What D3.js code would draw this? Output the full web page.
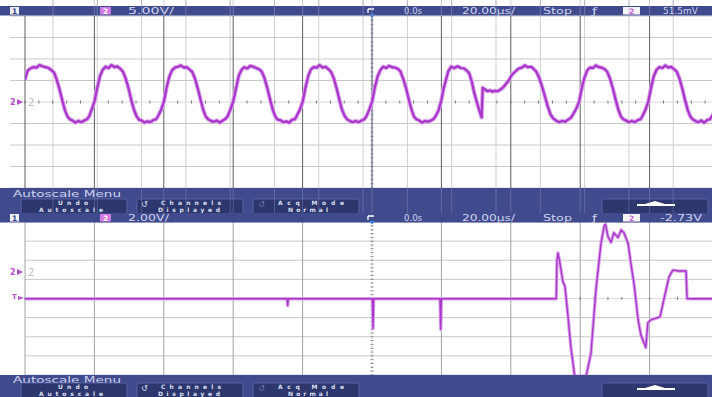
<!DOCTYPE html>
<html lang="en">
<head>
<meta charset="UTF-8">
<title>Scope capture</title>
<style>
body { margin: 0; background: #fff; }
svg { display: block; font-family: "DejaVu Sans", sans-serif; }
.bar-text { fill: #cfd3ef; font-size: 9px; }
.btn-text { fill: #dde0f4; font-size: 6px; font-weight: bold; }
</style>
</head>
<body>
<script src="https://d3js.org/d3.v7.min.js"></script>
<script>
// readouts
var chanScale = ['5.00V/', '2.00V/'];
var timeRef = '0.0s';
var timeScale = '20.00\u00b5s/';
var runState = 'Stop';
var trigLevel = ['51.5mV', '-2.73V'];
var menuTitle = 'Autoscale Menu';
var menuButtons = [['Undo', 'Autoscale'], ['Channels', 'Displayed'], ['Acq Mode', 'Normal']];

// time grid, us (10 divisions of 20 us)
var timeTicks = [-100, -80, -60, -40, -20, 0, 20, 40, 60, 80, 100];

// upper capture, channel 2 at 5 V/div, [us, V]
var topTrace = [
  [-100.0,5.2],[-99.3,7.2],[-98.5,7.8],[-97.6,8.1],[-96.7,8.0],[-95.8,8.6],[-95.0,8.3],[-94.1,8.1],[-93.2,7.9],[-92.4,7.4],[-91.6,6.8],[-90.9,5.3],[-90.1,3.1],[-89.3,0.5],[-88.5,-1.9],[-87.8,-3.3],[-87.1,-4.0],[-86.3,-4.3],[-85.5,-4.8],[-84.6,-4.4],[-83.8,-4.7],[-82.9,-4.3],[-82.1,-4.0],[-81.5,-3.3],[-80.8,-1.8],
  [-80.0,0.1],[-79.2,3.2],[-78.4,6.0],[-77.6,7.5],[-76.8,8.2],[-75.9,7.9],[-75.1,8.6],[-74.2,8.1],[-73.4,8.3],[-72.5,7.7],[-71.8,7.1],[-71.0,5.5],[-70.2,3.3],[-69.4,0.6],[-68.6,-1.8],[-67.9,-3.2],[-67.2,-4.1],[-66.4,-4.3],[-65.6,-4.8],[-64.7,-4.5],[-63.9,-4.7],[-63.0,-4.2],[-62.2,-4.0],[-61.6,-3.2],[-60.8,-1.9],
  [-60.0,0.0],[-59.2,3.3],[-58.4,5.9],[-57.6,7.4],[-56.8,8.0],[-55.9,8.2],[-55.1,8.5],[-54.2,8.0],[-53.4,8.1],[-52.5,7.5],[-51.8,7.0],[-51.0,5.4],[-50.2,3.1],[-49.4,0.5],[-48.6,-1.9],[-47.9,-3.4],[-47.2,-4.0],[-46.4,-4.4],[-45.6,-4.6],[-44.7,-4.3],[-43.9,-4.8],[-43.0,-4.3],[-42.2,-3.9],[-41.6,-3.3],[-40.8,-1.7],
  [-40.0,0.1],[-39.2,3.1],[-38.4,6.1],[-37.6,7.5],[-36.8,8.1],[-35.9,7.8],[-35.1,8.4],[-34.2,8.2],[-33.4,7.9],[-32.5,7.6],[-31.8,7.1],[-31.0,5.6],[-30.2,3.3],[-29.4,0.7],[-28.6,-1.8],[-27.9,-3.3],[-27.2,-4.1],[-26.4,-4.2],[-25.6,-4.7],[-24.7,-4.5],[-23.9,-4.8],[-23.0,-4.1],[-22.2,-4.0],[-21.6,-3.1],[-20.8,-1.8],
  [-20.0,0.0],[-19.2,3.2],[-18.4,6.0],[-17.6,7.6],[-16.8,8.1],[-15.9,8.0],[-15.1,8.6],[-14.2,8.0],[-13.4,8.2],[-12.5,7.6],[-11.8,7.0],[-11.0,5.5],[-10.2,3.2],[-9.4,0.5],[-8.6,-1.9],[-7.9,-3.2],[-7.2,-4.0],[-6.4,-4.4],[-5.6,-4.7],[-4.7,-4.4],[-3.9,-4.7],[-3.0,-4.3],[-2.2,-4.0],[-1.6,-3.3],[-0.8,-1.8],
  [0.0,0.0],[0.8,3.3],[1.6,5.9],[2.4,7.4],[3.2,8.2],[4.1,7.9],[4.9,8.4],[5.8,8.1],[6.6,8.0],[7.5,7.7],[8.2,7.1],[9.0,5.4],[9.8,3.3],[10.6,0.6],[11.4,-1.8],[12.1,-3.4],[12.8,-4.0],[13.6,-4.3],[14.4,-4.8],[15.3,-4.4],[16.1,-4.6],[17.0,-4.3],[17.8,-3.9],[18.4,-3.2],[19.2,-1.9],
  [19.9,0.1],[20.6,2.9],[21.3,5.1],[22.0,7.2],[22.8,8.2],[23.7,7.9],[24.7,8.3],[25.6,7.9],[26.6,7.8],[27.3,7.3],[28.0,6.7],[28.8,4.6],[29.5,2.0],[30.1,0.3],[30.6,-1.1],[31.1,-2.4],[31.6,-3.6],
  [31.9,3.3],[32.6,2.9],[33.3,2.5],[34.0,2.7],[34.7,2.4],[35.4,2.6],[36.2,2.5],[37.0,2.9],[37.8,3.4],[38.6,4.2],[39.4,5.0],[40.3,6.3],[41.3,7.1],[42.3,7.8],[43.2,8.0],[44.0,8.5],[44.9,8.1],[45.8,8.2],[46.6,7.7],[47.4,7.0],[48.2,5.6],[49.0,3.6],[49.8,1.4],[50.6,-0.9],[51.4,-2.8],[52.2,-3.8],[53.0,-4.3],[53.9,-4.7],[54.8,-4.4],[55.6,-4.6],[56.5,-4.1],[57.3,-3.7],[58.0,-2.8],[58.9,-1.5],
  [59.7,0.1],[60.4,3.0],[61.2,5.6],[62.0,7.3],[62.8,8.0],[63.7,7.9],[64.5,8.5],[65.4,8.1],[66.2,8.0],[67.1,7.6],[67.8,7.0],[68.6,5.4],[69.4,3.2],[70.2,0.6],[71.0,-1.8],[71.7,-3.3],[72.4,-4.0],[73.2,-4.3],[74.0,-4.7],[74.9,-4.4],[75.7,-4.7],[76.6,-4.2],[77.4,-4.0],[78.0,-3.2],[78.8,-1.8],
  [79.6,0.0],[80.4,3.2],[81.2,6.0],[82.0,7.5],[82.8,8.1],[83.7,7.9],[84.5,8.5],[85.4,8.0],[86.2,8.2],[87.1,7.6],[87.8,7.1],[88.6,5.5],[89.4,3.2],[90.2,0.5],[91.0,-1.9],[91.7,-3.3],[92.4,-4.0],[93.2,-4.4],[94.0,-4.7],[94.9,-4.3],[95.7,-4.8],[96.6,-4.2],[97.4,-4.0],[98.0,-3.3],[98.6,-2.4]
];

// lower capture, channel 2 at 2 V/div, [us, V]
var bottomTrace = [
  [-100,-2.8],[-24.5,-2.8],[-24.3,-3.5],[-24.1,-2.8],[0.1,-2.8],[0.3,-5.9],[0.5,-2.8],
  [19.6,-2.8],[19.8,-6.0],[20.0,-2.8],[53.1,-2.8],[53.3,1.2],[53.6,2.0],[54.0,1.3],
  [55.0,-1.0],[55.6,-1.5],[56.4,-4.3],[57.3,-7.8],[58.3,-10.6],[58.5,-10.9],[61.7,-10.9],
  [63.1,-8.5],[64.6,-1.6],[66.0,3.0],[66.9,4.8],[67.3,5.0],[68.0,3.7],[68.9,3.1],[69.7,4.1],
  [70.9,3.6],[71.8,4.4],[72.6,4.1],[73.8,3.0],[74.6,0.9],[75.5,-1.2],[76.7,-5.0],[77.5,-6.6],
  [78.9,-7.9],[79.5,-5.3],[80.4,-5.0],[83.0,-4.7],[84.1,-2.9],[85.6,-0.5],[86.7,0.2],
  [88.5,0.1],[90.5,0.1],[90.8,-2.8],[98.5,-2.8]
];

var width = 712, height = 397;
var barBlue = '#404b8d', btnBlue = '#2d366d', trace = '#a936c9', halo = '#d9a3ea';

var svg = d3.select('body').append('svg')
  .attr('width', width)
  .attr('height', height);

var x = d3.scaleLinear().domain([-100, 100]).range([25, 719]);

// upper and lower screens
var panels = [
  { y0: 16, y1: 188, v: [-20, 20], data: topTrace, header: 6, menu: 188, btn: 199, scale: chanScale[0], level: trigLevel[0], thick: 2.2, gnd: 102 },
  { y0: 222, y1: 375, v: [-10.77, 5.23], data: bottomTrace, header: 213, menu: 375, btn: 383, scale: chanScale[1], level: trigLevel[1], thick: 1.4, gnd: 272 }
];

// faint second graticule that sits over the whole upper capture
var ghostX = d3.range(16).map(i => 53 + i * 44.3);
svg.append('g').selectAll('line')
  .data(ghostX).enter().append('line')
  .attr('x1', d => d).attr('x2', d => d)
  .attr('y1', 0).attr('y2', 188)
  .attr('stroke', '#cfcfcf').attr('stroke-width', 1);

panels.forEach(function(p, idx) {
  var y = d3.scaleLinear().domain(p.v).range([p.y1, p.y0]);
  var g = svg.append('g');
  var vDivs = d3.range(9).map(i => p.v[0] + i * (p.v[1] - p.v[0]) / 8);
  var vMid = vDivs[4];

  g.selectAll('.hgrid').data(vDivs).enter().append('line')
    .attr('x1', idx == 0 ? 10 : 25).attr('x2', width)
    .attr('y1', d => y(d)).attr('y2', d => y(d))
    .attr('stroke', (d, i) => i == 4 ? '#dcdcdc' : '#c9c9c9');

  g.selectAll('.vgrid').data(timeTicks).enter().append('line')
    .attr('x1', d => x(d)).attr('x2', d => x(d))
    .attr('y1', p.y0).attr('y2', p.y1)
    .attr('stroke', d => d == 0 ? (idx == 0 ? '#3a3f6e' : '#bdbdbd') : (idx == 0 ? '#5d5d5d' : '#a3a3a3'))
    .attr('stroke-dasharray', d => (d == 0 && idx == 1) ? '1,3' : null);

  // minor ticks on the centre lines
  var minorT = d3.range(-100, 100.1, 4);
  g.selectAll('.mt').data(minorT).enter().append('line')
    .attr('x1', d => x(d)).attr('x2', d => x(d))
    .attr('y1', y(vMid) - 1.5).attr('y2', y(vMid) + 1.5)
    .attr('stroke', '#777');
  var minorV = d3.range(41).map(i => p.v[0] + i * (p.v[1] - p.v[0]) / 40);
  g.selectAll('.mv').data(minorV).enter().append('line')
    .attr('x1', x(0) - 1.5).attr('x2', x(0) + 1.5)
    .attr('y1', d => y(d)).attr('y2', d => y(d))
    .attr('stroke', '#888');

  // trace, clipped to the screen
  svg.append('clipPath').attr('id', 'clip' + idx)
    .append('rect').attr('x', 25).attr('y', p.y0).attr('width', width - 25).attr('height', p.y1 - p.y0);

  var line = d3.line().x(d => x(d[0])).y(d => y(d[1]));
  g.append('path').datum(p.data)
    .attr('clip-path', 'url(#clip' + idx + ')')
    .attr('d', line).attr('fill', 'none')
    .attr('stroke', halo).attr('stroke-width', p.thick + 2).attr('stroke-linejoin', 'round');
  g.append('path').datum(p.data)
    .attr('clip-path', 'url(#clip' + idx + ')')
    .attr('d', line).attr('fill', 'none')
    .attr('stroke', trace).attr('stroke-width', p.thick).attr('stroke-linejoin', 'round');

  // ground marker "2" at left
  var gm = svg.append('g').attr('transform', `translate(10, ${p.gnd})`);
  gm.append('text').text('2').attr('x', 0).attr('y', 3).attr('fill', '#b64fd0').style('font-size', '8px').style('font-weight', 'bold');
  gm.append('path').attr('d', 'M7,-3 L13,0 L7,3 Z').attr('fill', '#b64fd0');
  gm.append('text').text('2').attr('x', 18).attr('y', 3.5).attr('fill', '#bdbdbd').style('font-size', '10px');

  if (idx == 1) {
    var tm = svg.append('g').attr('transform', `translate(12, ${y(-2.73)})`);
    tm.append('text').text('T').attr('x', 0).attr('y', 1).attr('fill', '#b64fd0').style('font-size', '7px').style('font-weight', 'bold');
    tm.append('path').attr('d', 'M6,-2 L12,0 L6,2 Z').attr('fill', '#b64fd0');
  }

  // header readout bar
  var hb = svg.append('g').attr('transform', `translate(0, ${p.header})`);
  hb.append('rect').attr('width', width).attr('height', 9.5).attr('fill', barBlue);
  hb.append('rect').attr('x', 10).attr('y', 1).attr('width', 9).attr('height', 7.5).attr('fill', '#eef0f8');
  hb.append('text').text('1').attr('x', 14.5).attr('y', 7.8).attr('text-anchor', 'middle')
    .attr('fill', '#3b4587').style('font-size', '7.5px').style('font-weight', 'bold');
  hb.append('rect').attr('x', 100).attr('y', 1).attr('width', 11).attr('height', 7.5).attr('fill', '#d27ae4');
  hb.append('text').text('2').attr('x', 105.5).attr('y', 7.8).attr('text-anchor', 'middle')
    .attr('fill', '#fff').style('font-size', '7.5px').style('font-weight', 'bold');
  hb.append('rect').attr('x', 623).attr('y', 1).attr('width', 17).attr('height', 7.5).attr('fill', '#f4f4fa');
  hb.append('text').text('2').attr('x', 631.5).attr('y', 7.8).attr('text-anchor', 'middle')
    .attr('fill', '#c25ad8').style('font-size', '7.5px').style('font-weight', 'bold');

  var readouts = [
    [p.scale, 128, idx == 0 ? 46 : 41],
    [timeRef, 404, 18],
    [timeScale, 462, 53],
    [runState, 543, 29],
    ['\u0192', 592, 5],
    [p.level, idx == 0 ? 663 : 660, idx == 0 ? 35 : 42]
  ];
  hb.selectAll('.ro').data(readouts).enter().append('text')
    .attr('class', 'bar-text')
    .text(d => d[0])
    .attr('x', d => d[1]).attr('y', 8.3)
    .attr('textLength', d => d[2]).attr('lengthAdjust', 'spacingAndGlyphs');

  // trigger position arrow
  var ta = svg.append('g').attr('transform', `translate(${x(0)}, ${p.header})`);
  ta.append('path').attr('d', 'M-4,3 L2,3 M-4,3 L-4,7').attr('stroke', '#fff').attr('stroke-width', 1.3).attr('fill', 'none');
  ta.append('path').attr('d', 'M-3,8 L3,8 L0,11.5 Z').attr('fill', '#3f7fd8');

  // autoscale menu
  var mb = svg.append('g').attr('transform', `translate(0, ${p.menu})`);
  mb.append('rect').attr('width', width).attr('height', idx == 0 ? 25 : 22).attr('fill', barBlue);
  mb.append('text').text(menuTitle).attr('class', 'bar-text')
    .attr('x', 13).attr('y', idx == 0 ? 8.5 : 7.5)
    .attr('textLength', 108).attr('lengthAdjust', 'spacingAndGlyphs')
    .style('font-size', '9.5px');

  var btnX = [21, 137, 253];
  var bb = svg.append('g').attr('transform', `translate(0, ${p.btn})`);
  bb.selectAll('.btn').data(menuButtons).enter().append('rect')
    .attr('x', (d, i) => btnX[i]).attr('y', 0)
    .attr('width', 106).attr('height', 15).attr('rx', 2)
    .attr('fill', btnBlue).attr('stroke', '#5f6aad').attr('stroke-width', 0.8);
  bb.append('rect').attr('x', 602).attr('y', 0).attr('width', 106).attr('height', 15).attr('rx', 2)
    .attr('fill', btnBlue).attr('stroke', '#5f6aad').attr('stroke-width', 0.8);
  bb.append('path').attr('d', 'M645,5 L655,2 L665,5 L675,5 L675,7 L637,7 L637,5 Z').attr('fill', '#fff');

  var btnMid = [73, 191, 311];
  var w1 = [30, 60, 66], w2 = [64, 62, 40];
  bb.selectAll('.b1').data(menuButtons).enter().append('text')
    .attr('class', 'btn-text').text(d => d[0])
    .attr('x', (d, i) => btnMid[i] - w1[i] / 2).attr('y', 6.3)
    .attr('textLength', (d, i) => w1[i]).attr('lengthAdjust', 'spacing');
  bb.selectAll('.b2').data(menuButtons).enter().append('text')
    .attr('class', 'btn-text').text(d => d[1])
    .attr('x', (d, i) => btnMid[i] - (i == 2 ? 3 : 2) - w2[i] / 2).attr('y', 13.3)
    .attr('textLength', (d, i) => w2[i]).attr('lengthAdjust', 'spacing');
  // little rotate icons in front of two buttons
  bb.append('text').text('\u21ba').attr('x', 141).attr('y', 7.5).attr('fill', '#dde0f4').style('font-size', '8px');
  bb.append('text').text('\u21ba').attr('x', 258).attr('y', 7.5).attr('fill', '#6f78b4').style('font-size', '8px');
});

// ghost lines keep running over the upper bars
var overBars = ghostX.concat(timeTicks.slice(1).map(d => x(d)));
svg.append('g').selectAll('line')
  .data(overBars).enter().append('line')
  .attr('x1', d => d).attr('x2', d => d)
  .attr('y1', 0).attr('y2', 16)
  .attr('stroke', '#9aa0c8').attr('stroke-opacity', 0.5);
svg.append('g').selectAll('line')
  .data(overBars).enter().append('line')
  .attr('x1', d => d).attr('x2', d => d)
  .attr('y1', 188).attr('y2', 213)
  .attr('stroke', '#9aa0c8').attr('stroke-opacity', 0.35);
</script>
</body>
</html>
